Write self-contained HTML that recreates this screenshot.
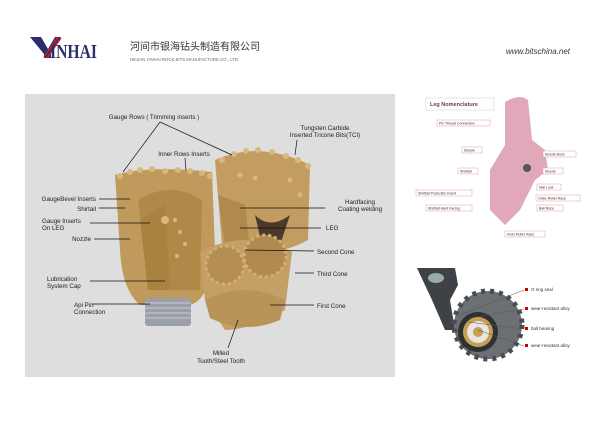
<!DOCTYPE html>
<html><head><meta charset="utf-8"><style>
html,body{margin:0;padding:0;background:#fff;width:600px;height:424px;overflow:hidden}
svg{display:block}
text{font-family:"Liberation Sans","Noto Sans CJK SC",sans-serif}
</style></head><body>
<svg width="600" height="424" viewBox="0 0 600 424" xmlns="http://www.w3.org/2000/svg">
<!-- logo -->
<polygon points="30,37 41,37 48,49 55,37 61,37 51,54 51,58 44,58 44,54" fill="#2b2f6b"/>
<line x1="44" y1="57" x2="58" y2="37" stroke="#e02020" stroke-width="1.4"/>
<line x1="47" y1="58" x2="61" y2="38" stroke="#e02020" stroke-width="1.4"/>
<text x="50" y="58" font-size="20" font-weight="bold" fill="#2b2f6b" style="font-family:'Liberation Serif',serif" textLength="47" lengthAdjust="spacingAndGlyphs">INHAI</text>
<text x="130" y="50" font-size="10" fill="#333">河间市银海钻头制造有限公司</text>
<text x="130" y="61" font-size="4.3" fill="#666">HEJIAN YINHAI ROCK BITS MANUFACTURE CO., LTD.</text>
<text x="570" y="54" font-size="8" fill="#333" font-style="italic" text-anchor="end">www.bitschina.net</text>
<!-- main panel -->
<rect x="25" y="94" width="370" height="283" fill="#dedede"/>
<!-- left bit -->
<path d="M115,175 Q150,165 212,172 L215,250 Q210,300 190,305 L140,305 Q122,290 120,250 Z" fill="#c09a5c"/>
<path d="M138,200 Q170,180 202,200 L200,290 L150,290 Z" fill="#b08848"/>
<path d="M140,220 L165,205 L170,290 L148,290 Z" fill="#a8823f"/>
<rect x="145" y="298" width="46" height="28" rx="3" fill="#9aa0a6"/>
<g stroke="#c6ccd0" stroke-width="1"><line x1="145" y1="303" x2="191" y2="303"/><line x1="145" y1="308" x2="191" y2="308"/><line x1="145" y1="313" x2="191" y2="313"/><line x1="145" y1="318" x2="191" y2="318"/></g>
<g fill="#d8b87c">
<circle cx="120" cy="176" r="3"/><circle cx="130" cy="172" r="3"/><circle cx="140" cy="170" r="3"/><circle cx="152" cy="169" r="3"/><circle cx="165" cy="171" r="3"/><circle cx="178" cy="170" r="3"/><circle cx="190" cy="171" r="3"/><circle cx="202" cy="173" r="3"/><circle cx="210" cy="176" r="3"/>
<circle cx="175" cy="220" r="2"/><circle cx="180" cy="232" r="2"/><circle cx="185" cy="244" r="2"/><circle cx="177" cy="256" r="2"/><circle cx="165" cy="220" r="4"/>
</g>
<!-- right bit -->
<path d="M215,160 Q260,140 310,165 L308,240 Q280,255 260,250 L222,245 Z" fill="#c29c60"/>
<path d="M218,195 L245,205 L250,250 L225,245 Z" fill="#b08a4c"/>
<path d="M255,215 Q270,230 290,215 L280,245 L262,245 Z" fill="#4a3a2a"/>
<g fill="#d8b87c">
<circle cx="222" cy="160" r="3"/><circle cx="234" cy="154" r="3"/><circle cx="246" cy="151" r="3"/><circle cx="258" cy="150" r="3"/><circle cx="272" cy="152" r="3"/><circle cx="286" cy="156" r="3"/><circle cx="298" cy="160" r="3"/><circle cx="308" cy="166" r="3"/>
<circle cx="240" cy="175" r="2.5"/><circle cx="255" cy="178" r="2.5"/><circle cx="290" cy="180" r="2.5"/><circle cx="300" cy="195" r="2.5"/>
</g>
<path d="M200,252 Q245,228 292,252 L285,310 Q250,330 225,330 L205,300 Z" fill="#c4a066"/>
<circle cx="225" cy="265" r="19" fill="#b58e52" stroke="#d4b070" stroke-width="3" stroke-dasharray="3 3"/>
<circle cx="265" cy="256" r="21" fill="#b08a50" stroke="#d4b070" stroke-width="3" stroke-dasharray="3 3"/>
<path d="M205,300 Q245,280 285,300 L280,320 Q245,335 210,318 Z" fill="#b89458"/>
<!-- labels main -->
<g font-size="6.2" fill="#222">
<text x="154" y="119" text-anchor="middle">Gauge Rows ( Trimming inserts )</text>
<text x="184" y="156" text-anchor="middle">Inner Rows Inserts</text>
<text x="325" y="130" text-anchor="middle">Tungsten Carbide</text>
<text x="325" y="137" text-anchor="middle">Inserted Tricone Bits(TCI)</text>
<text x="96" y="201" text-anchor="end">GaugeBevel Inserts</text>
<text x="96" y="211" text-anchor="end">Shirtail</text>
<text x="42" y="223">Gauge Inserts</text>
<text x="42" y="230">On LEG</text>
<text x="91" y="241" text-anchor="end">Nozzle</text>
<text x="47" y="281">Lubrication</text>
<text x="47" y="288">System Cap</text>
<text x="74" y="307">Api Pin</text>
<text x="74" y="314">Connection</text>
<text x="360" y="204" text-anchor="middle">Hardfacing</text>
<text x="360" y="211" text-anchor="middle">Coating welding</text>
<text x="326" y="230">LEG</text>
<text x="317" y="254">Second Cone</text>
<text x="317" y="276">Third Cone</text>
<text x="317" y="308">First Cone</text>
<text x="221" y="355" text-anchor="middle">Milled</text>
<text x="221" y="363" text-anchor="middle">Tooth/Steel Tooth</text>
</g>
<g stroke="#111" stroke-width="0.7" fill="none">
<line x1="160" y1="122" x2="123" y2="172"/><line x1="160" y1="122" x2="232" y2="155"/>
<line x1="185" y1="158" x2="186" y2="170"/><line x1="297" y1="140" x2="295" y2="155"/>
<line x1="99" y1="199" x2="130" y2="199"/><line x1="99" y1="208" x2="125" y2="208"/>
<line x1="90" y1="223" x2="150" y2="223"/><line x1="94" y1="239" x2="130" y2="239"/>
<line x1="90" y1="281" x2="165" y2="281"/><line x1="92" y1="304" x2="150" y2="304"/>
<line x1="325" y1="208" x2="240" y2="208"/><line x1="321" y1="228" x2="240" y2="228"/>
<line x1="314" y1="251" x2="245" y2="250"/><line x1="314" y1="273" x2="295" y2="273"/>
<line x1="314" y1="305" x2="270" y2="305"/><line x1="228" y1="348" x2="238" y2="320"/>
</g>
<!-- leg nomenclature -->
<rect x="426" y="98" width="68" height="12" fill="#fff" stroke="#ccc" stroke-width="0.5"/>
<text x="430" y="106" font-size="5.5" fill="#7a3060" font-weight="bold">Leg Nomenclature</text>
<path d="M505,102 Q520,93 528,100 L532,140 L545,150 L548,170 L535,180 L520,210 L505,225 L490,210 L490,170 L505,145 Z" fill="#e0a8b8"/>
<circle cx="527" cy="168" r="4" fill="#555"/>
<g font-size="3.5" fill="#333">
<rect x="437" y="120" width="53" height="6" fill="#fff" stroke="#e08080" stroke-width="0.4"/><text x="439" y="124.5">Pin Thread Connection</text>
<rect x="462" y="147" width="20" height="6" fill="#fff" stroke="#e08080" stroke-width="0.4"/><text x="464" y="151.5">Dimple</text>
<rect x="458" y="168" width="20" height="6" fill="#fff" stroke="#e08080" stroke-width="0.4"/><text x="460" y="172.5">Shirttail</text>
<rect x="416" y="190" width="56" height="6" fill="#fff" stroke="#e08080" stroke-width="0.4"/><text x="418" y="194.5">Shirttail Protection Insert</text>
<rect x="426" y="205" width="46" height="6" fill="#fff" stroke="#e08080" stroke-width="0.4"/><text x="428" y="209.5">Shirttail Hard Facing</text>
<rect x="543" y="151" width="33" height="6" fill="#fff" stroke="#e08080" stroke-width="0.4"/><text x="545" y="155.5">Nozzle Boss</text>
<rect x="543" y="168" width="20" height="6" fill="#fff" stroke="#e08080" stroke-width="0.4"/><text x="545" y="172.5">Nozzle</text>
<rect x="537" y="184" width="24" height="6" fill="#fff" stroke="#e08080" stroke-width="0.4"/><text x="539" y="188.5">Nail Lock</text>
<rect x="536" y="195" width="44" height="6" fill="#fff" stroke="#e08080" stroke-width="0.4"/><text x="538" y="199.5">Outer Roller Race</text>
<rect x="537" y="205" width="26" height="6" fill="#fff" stroke="#e08080" stroke-width="0.4"/><text x="539" y="209.5">Ball Race</text>
<rect x="505" y="231" width="40" height="6" fill="#fff" stroke="#e08080" stroke-width="0.4"/><text x="507" y="235.5">Inner Roller Race</text>
</g>
<!-- bearing cutaway -->
<path d="M417,268 L455,268 L458,285 L450,300 L455,330 L445,330 L432,300 Z" fill="#3e4145"/>
<ellipse cx="436" cy="278" rx="8" ry="5" fill="#9aa"/>
<circle cx="488" cy="325" r="34" fill="#6c6f73" stroke="#4a4d50" stroke-width="5" stroke-dasharray="4 5"/>
<circle cx="478" cy="332" r="20" fill="#2e3033"/>
<circle cx="478" cy="332" r="15" fill="#c8a050"/>
<circle cx="478" cy="332" r="11" fill="#e6e6e6"/>
<circle cx="478" cy="332" r="5" fill="#c8a050"/>
<g stroke="#555" stroke-width="0.5"><line x1="460" y1="315" x2="524" y2="290"/><line x1="470" y1="318" x2="524" y2="309"/><line x1="468" y1="322" x2="524" y2="329"/><line x1="478" y1="330" x2="524" y2="346"/></g>
<g font-size="4.5" fill="#333">
<rect x="525" y="288" width="3" height="3" fill="#c00"/><text x="531" y="291">O ring seal</text>
<rect x="525" y="307" width="3" height="3" fill="#c00"/><text x="531" y="310">wear-resistant alloy</text>
<rect x="525" y="327" width="3" height="3" fill="#c00"/><text x="531" y="330">ball bearing</text>
<rect x="525" y="344" width="3" height="3" fill="#c00"/><text x="531" y="347">wear-resistant alloy</text>
</g>
</svg>
</body></html>
